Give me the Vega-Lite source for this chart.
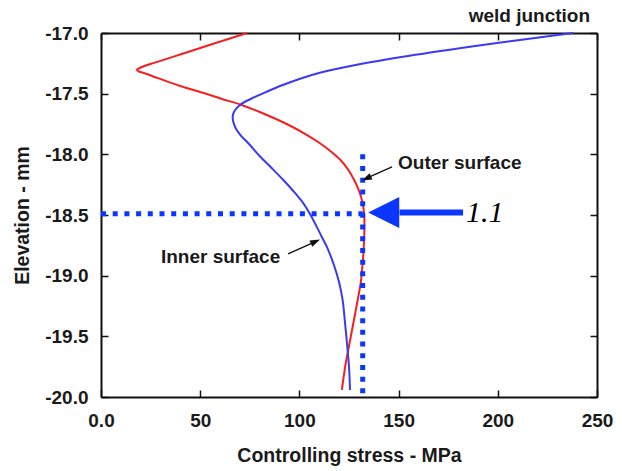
{
  "$schema": "https://vega.github.io/schema/vega-lite/v6.json",
  "width": 496,
  "height": 364,
  "autosize": {"type": "none"},
  "padding": {"left": 101, "top": 33, "right": 25, "bottom": 74},
  "background": "white",
  "config": {
    "view": {"stroke": null},
    "font": "Liberation Sans",
    "axis": {
      "domainColor": "#111",
      "domainWidth": 2,
      "tickColor": "#111",
      "tickWidth": 1.5,
      "tickSize": -7,
      "grid": false,
      "labelFlush": false,
      "labelFont": "Liberation Sans",
      "labelFontWeight": "bold",
      "labelFontSize": 19,
      "labelColor": "#1a1a1a",
      "titleFont": "Liberation Sans",
      "titleFontWeight": "bold",
      "titleFontSize": 19.5,
      "titleColor": "#1a1a1a"
    }
  },
  "datasets": {
    "curves": [
      {"series": "Outer surface", "i": 1, "stress": 73.6, "elev": -17.000},
      {"series": "Outer surface", "i": 2, "stress": 57.0, "elev": -17.087},
      {"series": "Outer surface", "i": 3, "stress": 40.3, "elev": -17.175},
      {"series": "Outer surface", "i": 4, "stress": 27.2, "elev": -17.244},
      {"series": "Outer surface", "i": 5, "stress": 21.2, "elev": -17.276},
      {"series": "Outer surface", "i": 6, "stress": 18.9, "elev": -17.293},
      {"series": "Outer surface", "i": 7, "stress": 18.1, "elev": -17.305},
      {"series": "Outer surface", "i": 8, "stress": 18.9, "elev": -17.316},
      {"series": "Outer surface", "i": 9, "stress": 21.2, "elev": -17.328},
      {"series": "Outer surface", "i": 10, "stress": 25.7, "elev": -17.354},
      {"series": "Outer surface", "i": 11, "stress": 33.5, "elev": -17.401},
      {"series": "Outer surface", "i": 12, "stress": 42.3, "elev": -17.449},
      {"series": "Outer surface", "i": 13, "stress": 52.2, "elev": -17.497},
      {"series": "Outer surface", "i": 14, "stress": 61.0, "elev": -17.544},
      {"series": "Outer surface", "i": 15, "stress": 70.1, "elev": -17.589},
      {"series": "Outer surface", "i": 16, "stress": 80.6, "elev": -17.655},
      {"series": "Outer surface", "i": 17, "stress": 93.6, "elev": -17.750},
      {"series": "Outer surface", "i": 18, "stress": 103.9, "elev": -17.841},
      {"series": "Outer surface", "i": 19, "stress": 110.2, "elev": -17.907},
      {"series": "Outer surface", "i": 20, "stress": 116.2, "elev": -17.981},
      {"series": "Outer surface", "i": 21, "stress": 120.7, "elev": -18.047},
      {"series": "Outer surface", "i": 22, "stress": 124.7, "elev": -18.129},
      {"series": "Outer surface", "i": 23, "stress": 127.6, "elev": -18.212},
      {"series": "Outer surface", "i": 24, "stress": 129.7, "elev": -18.286},
      {"series": "Outer surface", "i": 25, "stress": 131.1, "elev": -18.352},
      {"series": "Outer surface", "i": 26, "stress": 132.0, "elev": -18.418},
      {"series": "Outer surface", "i": 27, "stress": 132.6, "elev": -18.484},
      {"series": "Outer surface", "i": 28, "stress": 132.8, "elev": -18.582},
      {"series": "Outer surface", "i": 29, "stress": 132.6, "elev": -18.706},
      {"series": "Outer surface", "i": 30, "stress": 132.2, "elev": -18.830},
      {"series": "Outer surface", "i": 31, "stress": 131.6, "elev": -18.953},
      {"series": "Outer surface", "i": 32, "stress": 130.9, "elev": -19.060},
      {"series": "Outer surface", "i": 33, "stress": 129.1, "elev": -19.225},
      {"series": "Outer surface", "i": 34, "stress": 127.2, "elev": -19.390},
      {"series": "Outer surface", "i": 35, "stress": 125.1, "elev": -19.571},
      {"series": "Outer surface", "i": 36, "stress": 123.2, "elev": -19.736},
      {"series": "Outer surface", "i": 37, "stress": 121.4, "elev": -19.942},
      {"series": "Inner surface", "i": 1, "stress": 237.9, "elev": -17.000},
      {"series": "Inner surface", "i": 2, "stress": 191.4, "elev": -17.101},
      {"series": "Inner surface", "i": 3, "stress": 154.7, "elev": -17.190},
      {"series": "Inner surface", "i": 4, "stress": 128.4, "elev": -17.264},
      {"series": "Inner surface", "i": 5, "stress": 110.3, "elev": -17.328},
      {"series": "Inner surface", "i": 6, "stress": 101.1, "elev": -17.373},
      {"series": "Inner surface", "i": 7, "stress": 91.6, "elev": -17.429},
      {"series": "Inner surface", "i": 8, "stress": 83.5, "elev": -17.484},
      {"series": "Inner surface", "i": 9, "stress": 75.4, "elev": -17.544},
      {"series": "Inner surface", "i": 10, "stress": 70.4, "elev": -17.589},
      {"series": "Inner surface", "i": 11, "stress": 67.6, "elev": -17.635},
      {"series": "Inner surface", "i": 12, "stress": 66.4, "elev": -17.684},
      {"series": "Inner surface", "i": 13, "stress": 66.7, "elev": -17.734},
      {"series": "Inner surface", "i": 14, "stress": 68.1, "elev": -17.791},
      {"series": "Inner surface", "i": 15, "stress": 70.3, "elev": -17.841},
      {"series": "Inner surface", "i": 16, "stress": 74.6, "elev": -17.915},
      {"series": "Inner surface", "i": 17, "stress": 80.3, "elev": -18.020},
      {"series": "Inner surface", "i": 18, "stress": 86.0, "elev": -18.113},
      {"series": "Inner surface", "i": 19, "stress": 91.9, "elev": -18.212},
      {"series": "Inner surface", "i": 20, "stress": 96.9, "elev": -18.302},
      {"series": "Inner surface", "i": 21, "stress": 102.0, "elev": -18.404},
      {"series": "Inner surface", "i": 22, "stress": 105.6, "elev": -18.500},
      {"series": "Inner surface", "i": 23, "stress": 108.7, "elev": -18.596},
      {"series": "Inner surface", "i": 24, "stress": 111.3, "elev": -18.681},
      {"series": "Inner surface", "i": 25, "stress": 113.8, "elev": -18.761},
      {"series": "Inner surface", "i": 26, "stress": 117.4, "elev": -18.912},
      {"series": "Inner surface", "i": 27, "stress": 120.1, "elev": -19.060},
      {"series": "Inner surface", "i": 28, "stress": 121.8, "elev": -19.201},
      {"series": "Inner surface", "i": 29, "stress": 123.1, "elev": -19.407},
      {"series": "Inner surface", "i": 30, "stress": 124.3, "elev": -19.613},
      {"series": "Inner surface", "i": 31, "stress": 125.1, "elev": -19.778},
      {"series": "Inner surface", "i": 32, "stress": 125.5, "elev": -19.942}
    ],
    "dotted": [
      {"x": 0, "x2": 131.9, "y": -18.49, "y2": -18.49},
      {"x": 131.9, "x2": 131.9, "y": -18.0, "y2": -19.98}
    ],
    "pointers": [
      {"x": 146.7, "y": -18.104, "x2": 134.5, "y2": -18.192},
      {"x": 94.3, "y": -18.821, "x2": 107, "y2": -18.728}
    ],
    "heads": [
      {"x": 133.8, "y": -18.198, "angle": 156},
      {"x": 108.1, "y": -18.719, "angle": 336}
    ],
    "labels": [
      {"text": "Outer surface", "x": 149.7, "y": -18.121},
      {"text": "Inner surface", "x": 30.2, "y": -18.896}
    ]
  },
  "layer": [
    {
      "data": {"name": "curves"},
      "mark": {"type": "line", "strokeWidth": 2, "interpolate": "catmull-rom"},
      "encoding": {
        "x": {
          "field": "stress", "type": "quantitative",
          "scale": {"domain": [0, 250], "nice": false, "zero": false},
          "axis": {
            "orient": "bottom",
            "values": [0, 50, 100, 150, 200, 250],
            "labelExpr": "datum.value == 0 ? '0.0' : datum.label",
            "labelPadding": 21,
            "title": "Controlling stress - MPa",
            "titlePadding": 16
          }
        },
        "y": {
          "field": "elev", "type": "quantitative",
          "scale": {"domain": [-20, -17], "nice": false, "zero": false},
          "axis": {
            "orient": "left",
            "values": [-20, -19.5, -19, -18.5, -18, -17.5, -17],
            "labelExpr": "replace(format(datum.value, '.1f'), '\u2212', '-')",
            "labelPadding": 20,
            "title": "Elevation - mm",
            "titlePadding": 12
          }
        },
        "color": {
          "field": "series", "type": "nominal",
          "scale": {"domain": ["Outer surface", "Inner surface"], "range": ["#f51f1f", "#3a3af0"]},
          "legend": null
        },
        "order": {"field": "i", "type": "quantitative"}
      }
    },
    {
      "data": {"name": "dotted"},
      "mark": {"type": "rule", "strokeWidth": 5, "strokeDash": [5, 6.7], "color": "#0a36ff"},
      "encoding": {
        "x": {"field": "x", "type": "quantitative",
          "axis": {"orient": "top", "values": [0, 50, 100, 150, 200, 250], "labels": false, "title": null}},
        "x2": {"field": "x2"},
        "y": {"field": "y", "type": "quantitative",
          "axis": {"orient": "right", "values": [-20, -19.5, -19, -18.5, -18, -17.5, -17], "labels": false, "title": null}},
        "y2": {"field": "y2"}
      }
    },
    {
      "data": {"values": [{"x": 150.5, "x2": 182.5, "y": -18.48}]},
      "mark": {"type": "rule", "strokeWidth": 6, "color": "#0a36ff"},
      "encoding": {
        "x": {"field": "x", "type": "quantitative", "axis": null},
        "x2": {"field": "x2"},
        "y": {"field": "y", "type": "quantitative", "axis": null}
      }
    },
    {
      "data": {"values": [{"x": 142.5, "y": -18.48}]},
      "mark": {"type": "point", "shape": "M -1 0 L 1 -1 L 1 1 Z", "size": 961, "filled": true, "opacity": 1, "color": "#0a36ff"},
      "encoding": {
        "x": {"field": "x", "type": "quantitative", "axis": null},
        "y": {"field": "y", "type": "quantitative", "axis": null}
      }
    },
    {
      "data": {"name": "pointers"},
      "mark": {"type": "rule", "strokeWidth": 1.3, "color": "#111"},
      "encoding": {
        "x": {"field": "x", "type": "quantitative", "axis": null},
        "x2": {"field": "x2"},
        "y": {"field": "y", "type": "quantitative", "axis": null},
        "y2": {"field": "y2"}
      }
    },
    {
      "data": {"name": "heads"},
      "mark": {"type": "point", "shape": "M 1 0 L -1 -0.7 L -1 0.7 Z", "size": 100, "filled": true, "opacity": 1, "color": "#111"},
      "encoding": {
        "x": {"field": "x", "type": "quantitative", "axis": null},
        "y": {"field": "y", "type": "quantitative", "axis": null},
        "angle": {"field": "angle", "type": "quantitative", "scale": null}
      }
    },
    {
      "data": {"name": "labels"},
      "mark": {"type": "text", "align": "left", "baseline": "alphabetic", "font": "Liberation Sans", "fontWeight": "bold", "fontSize": 19, "color": "#1a1a1a"},
      "encoding": {
        "x": {"field": "x", "type": "quantitative", "axis": null},
        "y": {"field": "y", "type": "quantitative", "axis": null},
        "text": {"field": "text"}
      }
    },
    {
      "data": {"values": [{"text": "weld junction", "x": 246.5, "y": -16.909}]},
      "mark": {"type": "text", "align": "right", "baseline": "alphabetic", "font": "Liberation Sans", "fontWeight": "bold", "fontSize": 19, "color": "#1a1a1a"},
      "encoding": {
        "x": {"field": "x", "type": "quantitative", "axis": null},
        "y": {"field": "y", "type": "quantitative", "axis": null},
        "text": {"field": "text"}
      }
    },
    {
      "data": {"values": [{"text": "1.1", "x": 184, "y": -18.555}]},
      "mark": {"type": "text", "align": "left", "baseline": "alphabetic", "font": "Liberation Serif", "fontStyle": "italic", "fontSize": 30, "color": "#000"},
      "encoding": {
        "x": {"field": "x", "type": "quantitative", "axis": null},
        "y": {"field": "y", "type": "quantitative", "axis": null},
        "text": {"field": "text"}
      }
    }
  ],
  "resolve": {"axis": {"x": "independent", "y": "independent"}}
}
